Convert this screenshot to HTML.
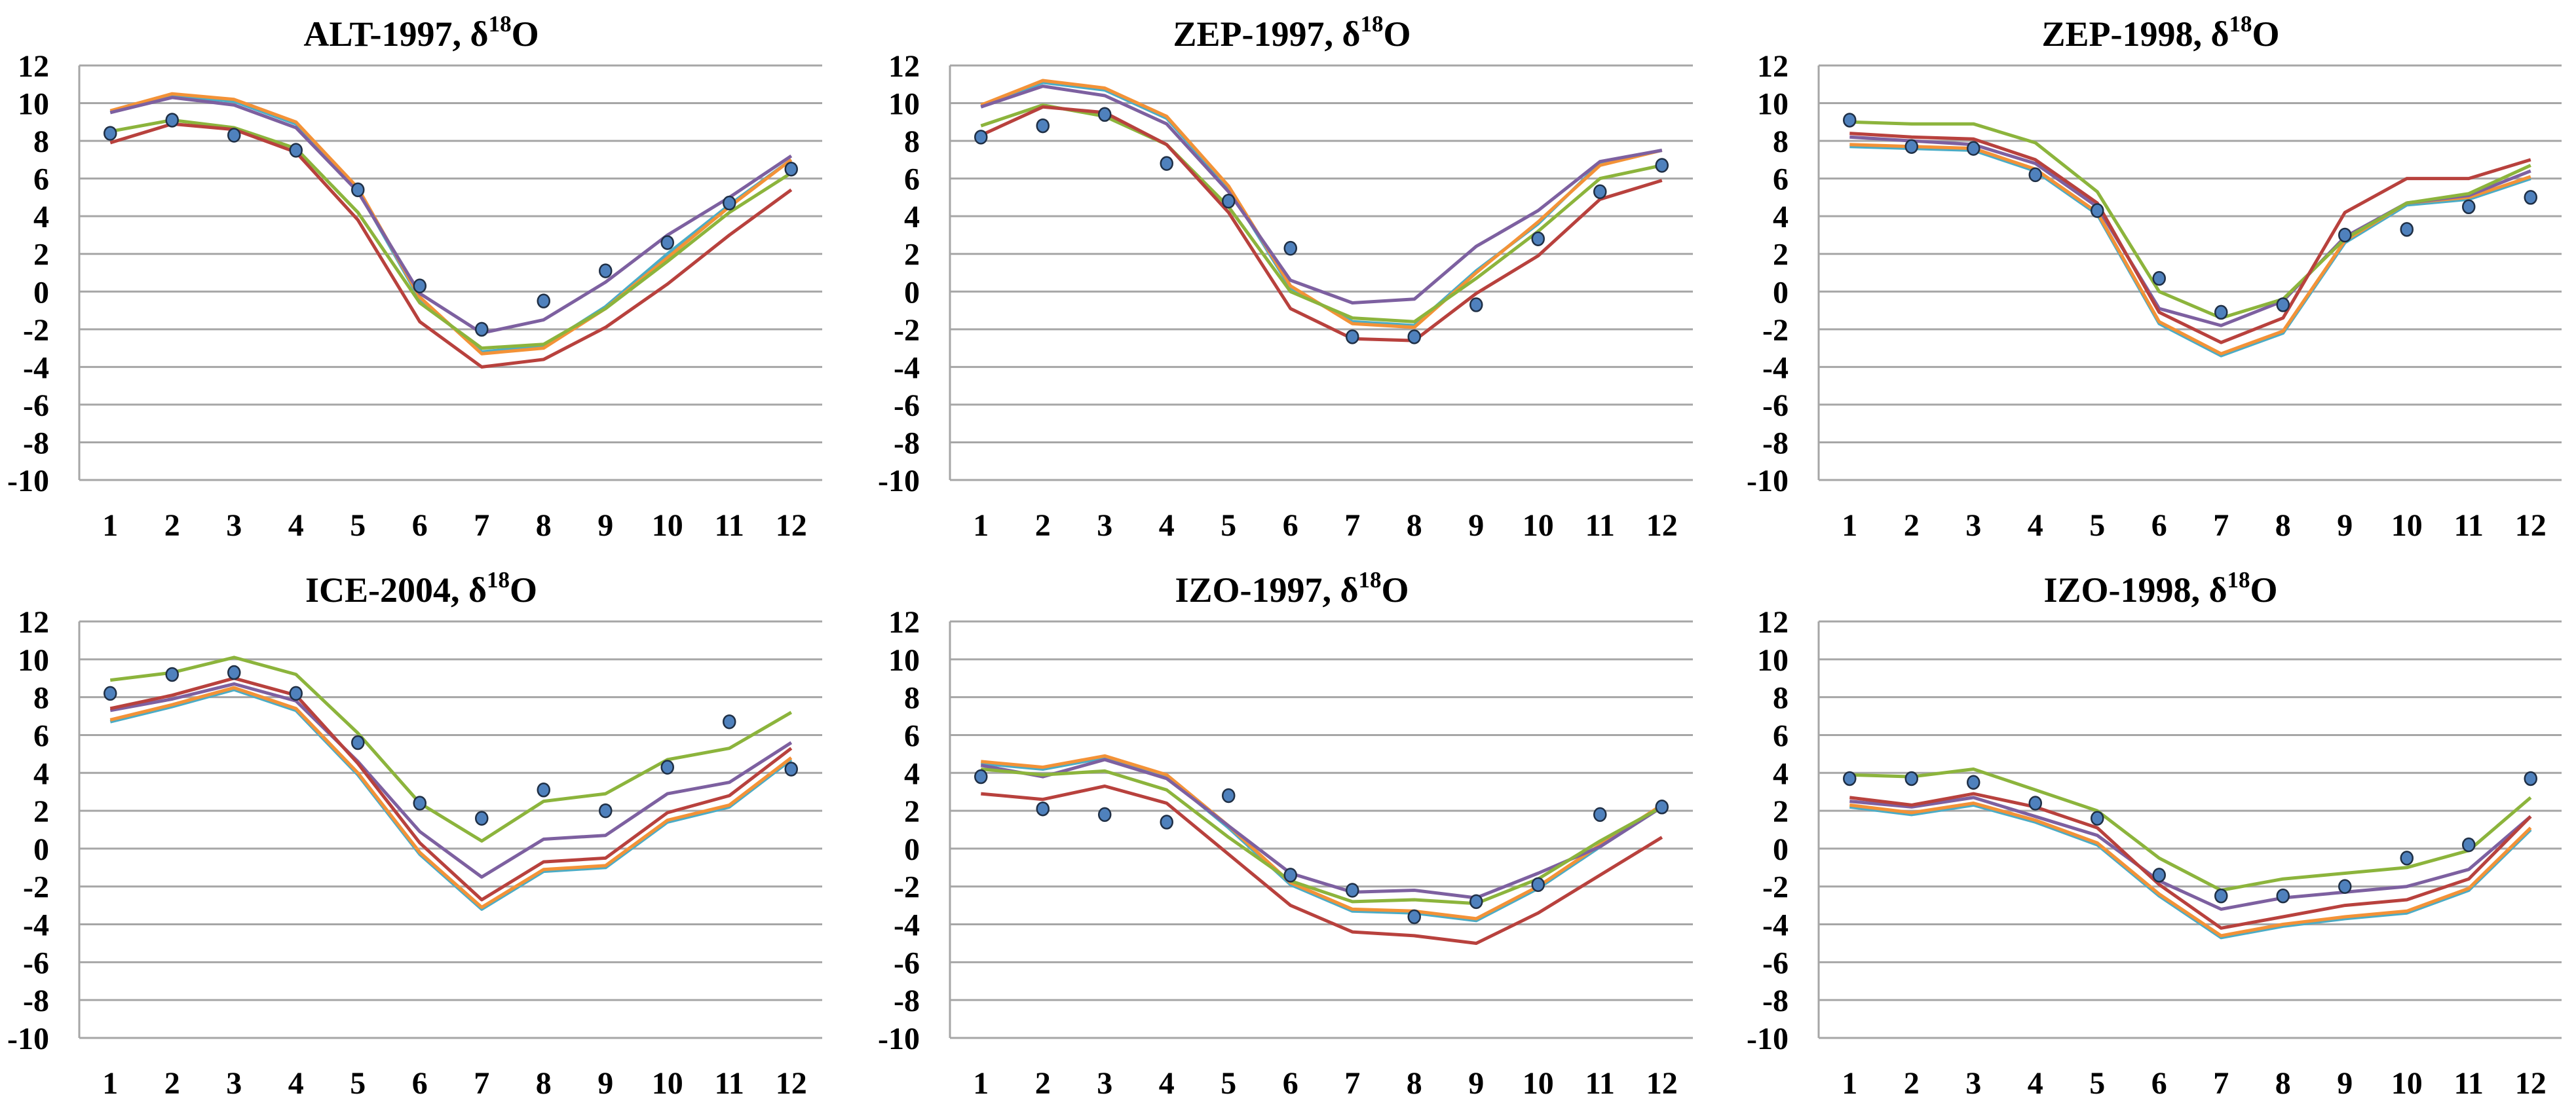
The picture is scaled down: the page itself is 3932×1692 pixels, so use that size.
<!DOCTYPE html>
<html><head><meta charset="utf-8"><style>
html,body{margin:0;padding:0;background:#fff;}
svg{display:block;font-family:"Liberation Serif",serif;font-weight:bold;}
</style></head><body>
<svg id="fig" width="3932" height="1692" viewBox="0 0 3932 1692" xmlns="http://www.w3.org/2000/svg"></svg>
<script>
const months = [1,2,3,4,5,6,7,8,9,10,11,12];
const yTicks = [12,10,8,6,4,2,0,-2,-4,-6,-8,-10];
const titles = ["ALT-1997","ZEP-1997","ZEP-1998","ICE-2004","IZO-1997","IZO-1998"];
// series per panel: cyan, orange, purple, green, red, observed
const cyanS = [
 [9.5,10.4,10.1,8.9,5.4,-0.4,-3.2,-2.9,-0.8,2.0,4.6,7.0],
 [9.8,11.1,10.7,9.2,5.5,0.2,-1.6,-1.8,1.1,3.6,6.8,7.5],
 [7.7,7.6,7.5,6.4,4.1,-1.7,-3.4,-2.2,2.6,4.6,4.9,6.0],
 [6.7,7.5,8.4,7.3,3.9,-0.3,-3.2,-1.2,-1.0,1.4,2.2,4.7],
 [4.5,4.2,4.8,3.8,1.1,-1.9,-3.3,-3.4,-3.8,-2.1,0.1,2.2],
 [2.2,1.8,2.3,1.4,0.2,-2.5,-4.7,-4.1,-3.7,-3.4,-2.2,1.0]];
const orangeS = [
 [9.6,10.5,10.2,9.0,5.5,-0.3,-3.3,-3.0,-0.9,1.8,4.5,7.0],
 [9.9,11.2,10.8,9.3,5.6,0.3,-1.7,-1.9,1.0,3.7,6.7,7.5],
 [7.8,7.7,7.6,6.5,4.2,-1.6,-3.3,-2.1,2.7,4.7,5.0,6.1],
 [6.8,7.6,8.5,7.4,4.0,-0.2,-3.1,-1.1,-0.9,1.5,2.3,4.8],
 [4.6,4.3,4.9,3.9,1.2,-1.8,-3.2,-3.3,-3.7,-2.0,0.2,2.3],
 [2.3,1.9,2.4,1.5,0.3,-2.4,-4.6,-4.0,-3.6,-3.3,-2.1,1.1]];
const purpleS = [
 [9.5,10.3,9.9,8.7,5.3,-0.1,-2.2,-1.5,0.5,3.0,5.0,7.2],
 [9.8,10.9,10.4,8.9,5.3,0.6,-0.6,-0.4,2.4,4.3,6.9,7.5],
 [8.2,8.0,7.8,6.8,4.5,-0.9,-1.8,-0.5,2.9,4.7,5.1,6.4],
 [7.3,7.9,8.7,7.8,4.6,0.9,-1.5,0.5,0.7,2.9,3.5,5.6],
 [4.4,3.8,4.7,3.7,1.2,-1.3,-2.3,-2.2,-2.6,-1.3,0.1,2.2],
 [2.5,2.2,2.7,1.7,0.7,-1.7,-3.2,-2.6,-2.3,-2.0,-1.1,1.7]];
const greenS = [
 [8.5,9.1,8.7,7.6,4.2,-0.6,-3.0,-2.8,-0.9,1.6,4.2,6.3],
 [8.8,9.9,9.3,7.8,4.5,0.0,-1.4,-1.6,0.7,3.2,6.0,6.7],
 [9.0,8.9,8.9,7.9,5.3,0.0,-1.4,-0.4,2.8,4.7,5.2,6.7],
 [8.9,9.3,10.1,9.2,6.1,2.4,0.4,2.5,2.9,4.7,5.3,7.2],
 [4.2,3.9,4.1,3.1,0.6,-1.7,-2.8,-2.7,-2.9,-1.6,0.4,2.2],
 [3.9,3.8,4.2,3.1,2.0,-0.5,-2.2,-1.6,-1.3,-1.0,-0.1,2.7]];
const redS = [
 [7.9,8.9,8.6,7.4,3.8,-1.6,-4.0,-3.6,-1.9,0.4,3.0,5.4],
 [8.3,9.8,9.5,7.8,4.2,-0.9,-2.5,-2.6,-0.1,1.9,4.9,5.9],
 [8.4,8.2,8.1,7.0,4.7,-1.1,-2.7,-1.4,4.2,6.0,6.0,7.0],
 [7.4,8.1,9.0,8.1,4.5,0.3,-2.7,-0.7,-0.5,1.9,2.8,5.3],
 [2.9,2.6,3.3,2.4,-0.3,-3.0,-4.4,-4.6,-5.0,-3.4,-1.4,0.6],
 [2.7,2.3,2.9,2.2,1.1,-1.9,-4.2,-3.6,-3.0,-2.7,-1.6,1.7]];
const obsS = [
 [8.4,9.1,8.3,7.5,5.4,0.3,-2.0,-0.5,1.1,2.6,4.7,6.5],
 [8.2,8.8,9.4,6.8,4.8,2.3,-2.4,-2.4,-0.7,2.8,5.3,6.7],
 [9.1,7.7,7.6,6.2,4.3,0.7,-1.1,-0.7,3.0,3.3,4.5,5.0],
 [8.2,9.2,9.3,8.2,5.6,2.4,1.6,3.1,2.0,4.3,6.7,4.2],
 [3.8,2.1,1.8,1.4,2.8,-1.4,-2.2,-3.6,-2.8,-1.9,1.8,2.2],
 [3.7,3.7,3.5,2.4,1.6,-1.4,-2.5,-2.5,-2.0,-0.5,0.2,3.7]];

const NS="http://www.w3.org/2000/svg";
const svg=document.getElementById('fig');
function mk(tag,attrs,parent){const e=document.createElementNS(NS,tag);for(const k in attrs)e.setAttribute(k,attrs[k]);(parent||svg).appendChild(e);return e;}
const colX=[121,1450,2776], rowTop=[100,949], rowBot=[733,1585], plotW=1134;
const seriesDefs=[[cyanS,'#4bacc6','line-cyan'],[orangeS,'#f39237','line-orange'],[purpleS,'#7d60a0','line-purple'],[greenS,'#8cb43c','line-green'],[redS,'#b8413d','line-red']];
for(let p=0;p<6;p++){
  const x0=colX[p%3], yT=rowTop[Math.floor(p/3)], yB=rowBot[Math.floor(p/3)];
  const g=mk('g',{});
  
  
  const xs=i=>x0+plotW/12*(i+0.5);
  const ys=v=>yT+(12-v)/22*(yB-yT);
  yTicks.forEach(t=>{
    const l=mk('line',{x1:x0,x2:x0+plotW,y1:ys(t),y2:ys(t),stroke:'#a6a6a6','stroke-width':3},g);
    
    
    const tx=mk('text',{x:x0-46,y:ys(t)+17,'text-anchor':'end','font-size':48,fill:'#000'},g);
    tx.textContent=t;
    
    
  });
  const ax=mk('line',{x1:x0,x2:x0,y1:yT,y2:yB,stroke:'#a6a6a6','stroke-width':3},g);
  
  
  months.forEach((m,i)=>{
    const tx=mk('text',{x:xs(i),y:yB+85,'text-anchor':'middle','font-size':48,fill:'#000'},g);
    tx.textContent=m;
    
    
  });
  const ti=mk('text',{x:x0+plotW/2-45,y:yT-30,'text-anchor':'middle','font-size':54,fill:'#000'},g);
  
  
  ti.appendChild(document.createTextNode(titles[p]+', δ'));
  const sup=mk('tspan',{'font-size':35,dy:-22},ti); sup.textContent='18';
  const o=mk('tspan',{'font-size':54,dy:22},ti); o.textContent='O';
  seriesDefs.forEach(([arr,col,name])=>{
    const pts=arr[p].map((v,i)=>xs(i).toFixed(1)+','+ys(v).toFixed(1)).join(' ');
    const pl=mk('polyline',{points:pts,fill:'none',stroke:col,'stroke-width':5,'stroke-linejoin':'round'},g);
    
    
  });
  obsS[p].forEach((v,i)=>{
    const c=mk('ellipse',{cx:xs(i),cy:ys(v),rx:9,ry:10,fill:'#4f81bd',stroke:'#1f2f45','stroke-width':2.5},g);
    
    
  });
}
</script>
</body></html>
